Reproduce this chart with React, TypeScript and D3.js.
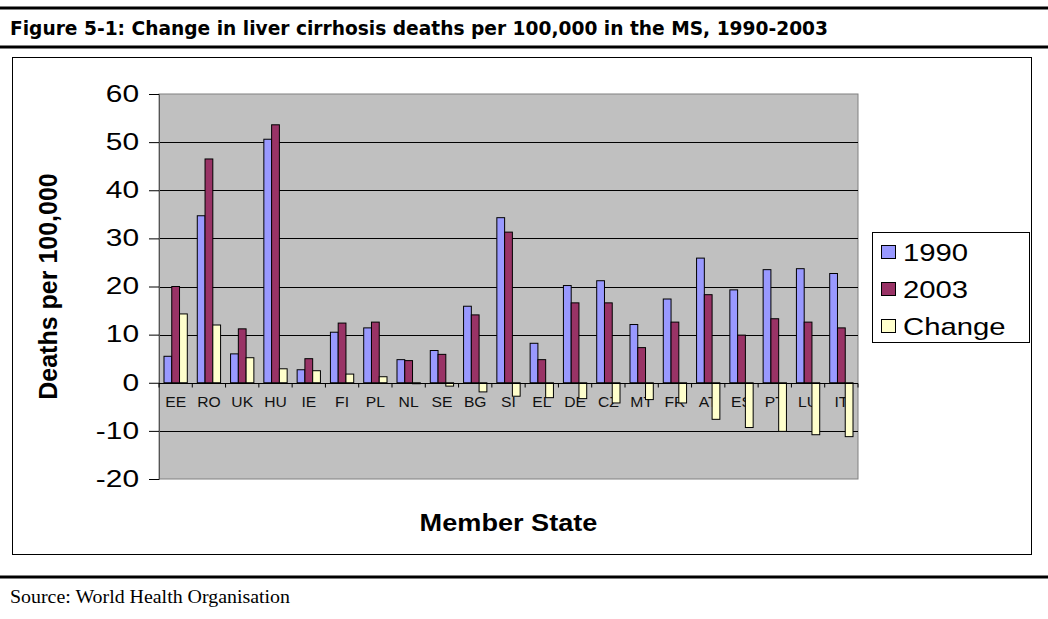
import * as d3 from 'd3';
import React, { useEffect, useRef } from 'react';

// Member states, ordered as in the source figure
const states = ['EE', 'RO', 'UK', 'HU', 'IE', 'FI', 'PL', 'NL', 'SE', 'BG', 'SI', 'EL', 'DE', 'CZ', 'MT', 'FR', 'AT', 'ES', 'PT', 'LU', 'IT'];
// deaths per 100,000
const deaths1990 = [5.5, 34.7, 6.0, 50.6, 2.7, 10.5, 11.4, 4.8, 6.7, 15.9, 34.3, 8.2, 20.2, 21.2, 12.1, 17.4, 25.9, 19.3, 23.5, 23.7, 22.7];
const deaths2003 = [20.0, 46.5, 11.2, 53.6, 5.0, 12.4, 12.6, 4.6, 5.9, 14.1, 31.3, 4.8, 16.6, 16.6, 7.3, 12.6, 18.3, 9.9, 13.3, 12.6, 11.4];
const change = [14.3, 12.0, 5.2, 2.9, 2.5, 1.8, 1.25, -0.2, -0.7, -1.9, -2.8, -3.1, -3.3, -4.2, -3.5, -4.2, -7.6, -9.3, -10.1, -10.8, -11.2];

const seriesNames = ['1990', '2003', 'Change'];
const seriesColors = ['#9999ff', '#993366', '#ffffcc'];
const yTicks = [-20, -10, 0, 10, 20, 30, 40, 50, 60];

const App = () => {
    const ref = useRef<SVGSVGElement>(null);

    useEffect(() => {
        const svg = d3.select(ref.current);
        svg.selectAll('*').remove();

        const W = 1048;
        const arial = '"Liberation Sans", Arial, sans-serif';

        // page furniture: rules, title, source
        [8, 47, 577].forEach((y) => {
            svg.append('rect').attr('x', 0).attr('y', y - 1.5).attr('width', W).attr('height', 3).attr('fill', 'black');
        });
        svg.append('text')
            .attr('x', 10).attr('y', 35)
            .attr('font-family', '"DejaVu Sans Condensed", "DejaVu Sans", sans-serif')
            .attr('font-weight', 'bold')
            .attr('font-size', 20)
            .attr('textLength', 818)
            .attr('lengthAdjust', 'spacingAndGlyphs')
            .text('Figure 5-1: Change in liver cirrhosis deaths per 100,000 in the MS, 1990-2003');
        svg.append('text')
            .attr('x', 10).attr('y', 603)
            .attr('font-family', '"Liberation Serif", serif')
            .attr('font-size', 18)
            .attr('textLength', 280)
            .attr('lengthAdjust', 'spacingAndGlyphs')
            .text('Source: World Health Organisation');

        // chart frame
        svg.append('rect')
            .attr('x', 12.5).attr('y', 57.5).attr('width', 1019).attr('height', 497)
            .attr('fill', 'white').attr('stroke', 'black');

        const left = 159, right = 858, top = 94, bottom = 479;

        const x = d3.scaleBand().domain(states).range([left, right]).paddingInner(0.3).paddingOuter(0.15);
        const xs = d3.scaleBand().domain(seriesNames).range([0, x.bandwidth()]);
        const y = d3.scaleLinear().domain([-20, 60]).range([bottom, top]);

        // plot area
        svg.append('rect')
            .attr('x', left).attr('y', top).attr('width', right - left).attr('height', bottom - top)
            .attr('fill', '#c0c0c0').attr('stroke', '#808080');

        // gridlines
        svg.append('g').selectAll('line')
            .data(yTicks.filter((t) => t !== -20 && t !== 60 && t !== 0))
            .enter().append('line')
            .attr('x1', left).attr('x2', right)
            .attr('y1', (d) => Math.round(y(d)) + 0.5).attr('y2', (d) => Math.round(y(d)) + 0.5)
            .attr('stroke', 'black');

        // y axis
        const yAxis = d3.axisLeft(y).tickValues(yTicks).tickSize(10).tickPadding(10)
            .tickFormat((d) => String(d));
        const yg = svg.append('g')
            .attr('transform', `translate(${left},0)`)
            .call(yAxis);
        yg.select('.domain').attr('stroke', '#555');
        yg.selectAll('.tick line').attr('stroke', 'black');
        yg.selectAll('.tick text')
            .attr('font-family', arial)
            .attr('font-size', 23)
            .attr('fill', 'black')
            .attr('transform', function () {
                const tx = +d3.select(this).attr('x');
                return `translate(${tx},0) scale(1.3,1) translate(${-tx},0)`;
            });

        // category labels sit under the bars
        svg.append('g').selectAll('text')
            .data(states)
            .enter().append('text')
            .attr('text-anchor', 'middle')
            .attr('font-family', arial)
            .attr('font-size', 14)
            .attr('fill', '#111')
            .attr('transform', (d) => `translate(${x(d)! + x.bandwidth() / 2},407) scale(1.12,1)`)
            .text((d) => d);

        // bars
        const rows = states.map((s, i) => ({ state: s, vals: [deaths1990[i], deaths2003[i], change[i]] }));
        const groups = svg.append('g').selectAll('g')
            .data(rows)
            .enter().append('g')
            .attr('transform', (d) => `translate(${x(d.state)},0)`);
        groups.selectAll('rect')
            .data((d) => d.vals.map((v, k) => ({ v, k })))
            .enter().append('rect')
            .attr('x', (d) => xs(seriesNames[d.k])!)
            .attr('width', xs.bandwidth())
            .attr('y', (d) => y(Math.max(0, d.v)))
            .attr('height', (d) => Math.abs(y(d.v) - y(0)))
            .attr('fill', (d) => seriesColors[d.k])
            .attr('stroke', 'black')
            .attr('stroke-width', 1);

        // x axis line at zero with ticks between categories
        const y0 = Math.round(y(0)) + 0.5;
        svg.append('line').attr('x1', left).attr('x2', right).attr('y1', y0).attr('y2', y0).attr('stroke', 'black');
        svg.append('g').selectAll('line')
            .data(d3.range(states.length + 1))
            .enter().append('line')
            .attr('x1', (i) => left + (i * (right - left)) / states.length)
            .attr('x2', (i) => left + (i * (right - left)) / states.length)
            .attr('y1', y0).attr('y2', y0 + 4)
            .attr('stroke', 'black');

        // axis titles
        svg.append('text')
            .attr('text-anchor', 'middle')
            .attr('font-family', arial)
            .attr('font-weight', 'bold')
            .attr('font-size', 25)
            .attr('transform', `translate(57,${(top + bottom) / 2}) rotate(-90)`)
            .text('Deaths per 100,000');
        svg.append('text')
            .attr('text-anchor', 'middle')
            .attr('font-family', arial)
            .attr('font-weight', 'bold')
            .attr('font-size', 24)
            .attr('transform', `translate(${(left + right) / 2},531) scale(1.13,1)`)
            .text('Member State');

        // legend
        const lg = svg.append('g');
        lg.append('rect')
            .attr('x', 872.5).attr('y', 232.5).attr('width', 157).attr('height', 110)
            .attr('fill', 'white').attr('stroke', 'black');
        const items = lg.selectAll('g.item')
            .data(seriesNames)
            .enter().append('g')
            .attr('class', 'item')
            .attr('transform', (d, i) => `translate(881,${252 + i * 37})`);
        items.append('rect')
            .attr('x', 0.5).attr('y', -6.5).attr('width', 14).attr('height', 13)
            .attr('fill', (d, i) => seriesColors[i])
            .attr('stroke', 'black');
        items.append('text')
            .attr('font-family', arial)
            .attr('font-size', 24)
            .attr('transform', 'translate(22,8.5) scale(1.22,1)')
            .text((d) => d);
    }, []);

    return (
        <svg ref={ref} width={1048} height={619}
            style={{ position: 'absolute', left: 0, top: 0, background: 'white' }} />
    );
};

export default App;
